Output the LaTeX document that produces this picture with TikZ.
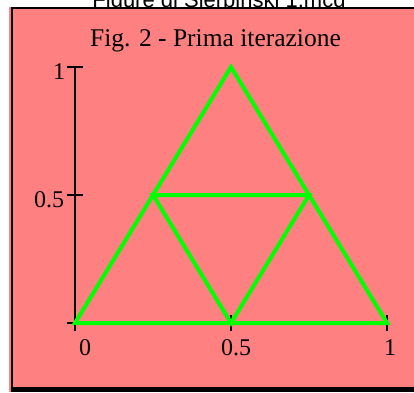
\documentclass[tikz,border=0pt]{standalone}
\usepackage{fontspec}
\setmainfont{Liberation Serif}
\newfontfamily\headfont{Liberation Sans}
\usetikzlibrary{calc}
\definecolor{panelpink}{RGB}{255,128,128}
\definecolor{sierpgreen}{RGB}{0,255,0}

\begin{document}
\begin{tikzpicture}[x=1pt, y=1pt,
    ticklabel/.style={font=\fontsize{24}{24}\selectfont, inner sep=0pt, anchor=base},
    axisline/.style={line width=1.5pt},
    sierp/.style={sierpgreen, line width=4pt}]
        \useasboundingbox (0,0) rectangle (414,392);

        % File name (cut off by the panel)
        \node[font=\headfont\fontsize{22}{22}\selectfont, inner sep=0pt, anchor=base] (file) at (219,384) {Figure di Sierpinski 1.mcd};

        % Panel
        \fill[panelpink] (9,0) rectangle (414,385);
        \draw[line width=2pt] (12,2) -- (12,384) -- (414,384);
        \fill (11,0) rectangle (414,4.7);

        % Title
        \node[font=\fontsize{25.5}{26}\selectfont, inner sep=0pt, anchor=base] (title) at (215.5,345) {Fig. 2 - Prima iterazione};

        % Axes and triangles
        \begin{scope}[shift={(75,69)}, x=312pt, y=256pt]
          \draw[axisline] ($(0,0)+(0,-8pt)$) -- (0,1);
          \draw[axisline] (0,0) -- (1,0);
          \foreach \t in {0,0.5,1} {
            \draw[axisline] ($(0,\t)+(-8pt,0)$) -- ($(0,\t)+(8pt,0)$);
            \draw[axisline] ($(\t,0)+(0,-8pt)$) -- ($(\t,0)+(0,8pt)$);
          }

          \coordinate (left)  at (0,0);
          \coordinate (apex)  at (0.5,1);
          \coordinate (right) at (1,0);
          \coordinate (midL)  at (0.25,0.5);
          \coordinate (midR)  at (0.75,0.5);
          \coordinate (midB)  at (0.5,0);

          \draw[sierp] (left) -- (apex) -- (right) -- cycle;
          \draw[sierp] (midL) -- (midR) -- (midB) -- cycle;
        \end{scope}

        % Tick labels
        \node[ticklabel] (y1)  at (59,313) {1};
        \node[ticklabel] (y05) at (49,185) {0.5};
        \node[ticklabel] (x0)  at (85,37)  {0};
        \node[ticklabel] (x05) at (236,37) {0.5};
        \node[ticklabel] (x1)  at (390,37) {1};
\end{tikzpicture}
\end{document}
